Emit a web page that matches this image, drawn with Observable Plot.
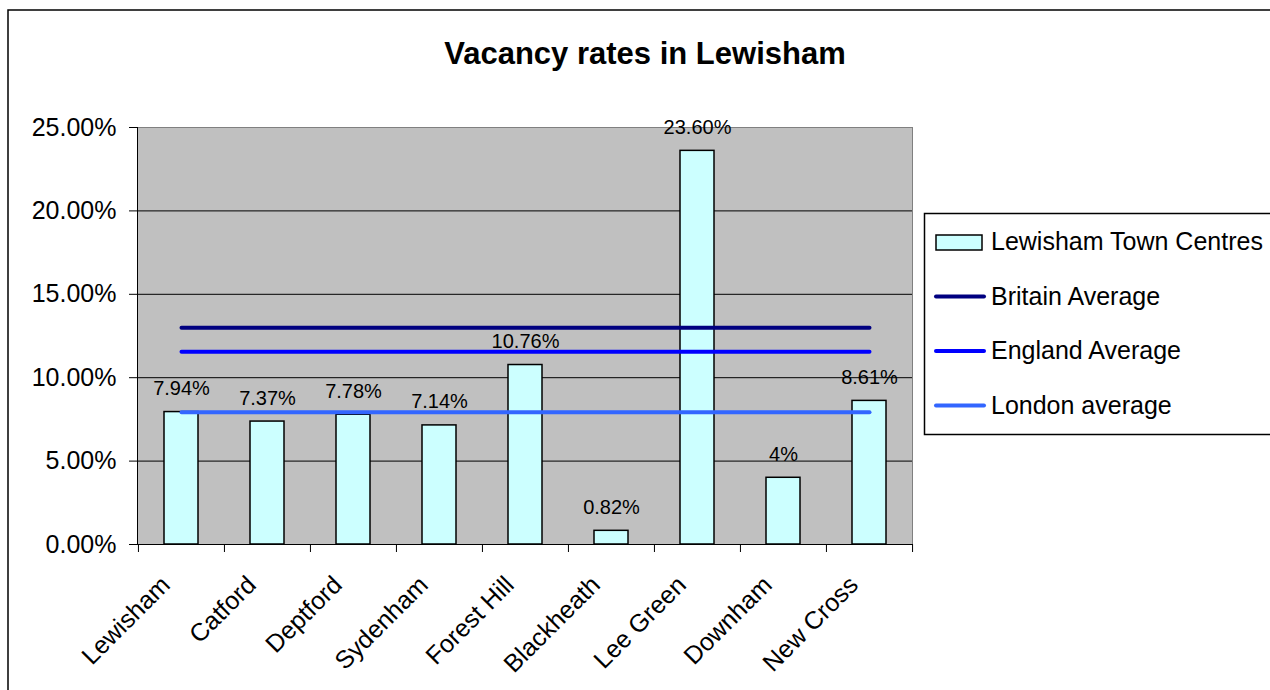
<!DOCTYPE html>
<html><head><meta charset="utf-8">
<script src="https://cdn.jsdelivr.net/npm/d3@7"></script>
<script src="https://cdn.jsdelivr.net/npm/@observablehq/plot@0.6"></script>
<style>
html,body{margin:0;padding:0;background:#fff;overflow:hidden;}
#wrap{position:relative;width:1270px;height:690px;font-family:"Liberation Sans",Arial,sans-serif;overflow:hidden;}
#wrap svg{position:absolute;left:0;top:0;}
</style></head><body><div id="wrap"></div>
<script>
const title = "Vacancy rates in Lewisham";
const centres = ["Lewisham","Catford","Deptford","Sydenham","Forest Hill","Blackheath","Lee Green","Downham","New Cross"];
const vacancy = [7.94,7.37,7.78,7.14,10.76,0.82,23.60,4.00,8.61];
const vacancyLabels = ["7.94%","7.37%","7.78%","7.14%","10.76%","0.82%","23.60%","4%","8.61%"];
const barSeries = "Lewisham Town Centres";
const averageNames = ["Britain Average","England Average","London average"];
const averageValues = [13.0, 11.55, 7.93];
const averageColors = ["#000080","#0000FF","#3366FF"];
const yTicks = [0,5,10,15,20,25];

const FONT = '"Liberation Sans", Arial, sans-serif';
const W = 1270, H = 690, mL = 137, mR = 358, mT = 127, mB = 146;
const plotH = H - mT - mB;
const step = (W - mL - mR) / centres.length;

const bars = centres.map((c, i) => ({centre: c, value: vacancy[i], label: vacancyLabels[i]}));
const avgLines = averageNames.map((name, j) => centres.map(c => ({centre: c, value: averageValues[j], series: name})));

const chart = Plot.plot({
  width: W, height: H, marginLeft: mL, marginRight: mR, marginTop: mT, marginBottom: mB,
  style: {fontFamily: FONT, background: "transparent", color: "#000", overflow: "visible"},
  x: {domain: centres, paddingInner: 0.605, paddingOuter: 0.3025, axis: null, label: null},
  y: {domain: [0, 25], axis: null, label: null},
  marks: [
    Plot.frame({fill: "#C0C0C0", stroke: "#808080"}),
    Plot.ruleY(yTicks.slice(1, -1), {stroke: "#000", strokeWidth: 1}),
    Plot.frame({anchor: "left", stroke: "#000"}),
    Plot.frame({anchor: "bottom", stroke: "#000"}),
    Plot.axisY(yTicks, {tickSize: 8, tickPadding: 13, fontSize: 25, label: null, tickFormat: d => d.toFixed(2) + "%", stroke: "#000", fill: "#000"}),
    Plot.ruleX(centres, {x: d => d, dx: -step / 2, insetTop: plotH, insetBottom: -8, stroke: "#000"}),
    Plot.ruleX([centres[centres.length - 1]], {x: d => d, dx: step / 2, insetTop: plotH, insetBottom: -8, stroke: "#000"}),
    Plot.barY(bars, {x: "centre", y: "value", fill: "#CCFFFF", stroke: "#000", strokeWidth: 1.5}),
    ...avgLines.map((data, j) => Plot.lineY(data, {x: "centre", y: "value", stroke: averageColors[j], strokeWidth: 4, strokeLinecap: "round"})),
    Plot.text(bars, {x: "centre", y: "value", text: "label", lineAnchor: "bottom", dy: -17, fontSize: 20, fill: "#000"}),
    Plot.text(centres, {x: d => d, frameAnchor: "bottom", rotate: -45, textAnchor: "end", dx: -10, dy: 42, fontSize: 25, fill: "#000"})
  ]
});
const wrap = document.getElementById("wrap");
wrap.appendChild(chart);

// overlay: border, title, legend
const svg = d3.select(wrap).append("svg").attr("width", W).attr("height", H)
  .style("font-family", FONT).style("pointer-events", "none");
svg.append("rect").attr("x", 8).attr("y", 10).attr("width", 1400).attr("height", 800)
  .attr("fill", "none").attr("stroke", "#000").attr("stroke-width", 1.5);
svg.append("text").attr("x", 645).attr("y", 64).attr("text-anchor", "middle")
  .attr("font-weight", "bold").attr("font-size", 31).attr("fill", "#000").text(title);

const lg = svg.append("g");
lg.append("rect").attr("x", 924.5).attr("y", 213.5).attr("width", 500).attr("height", 221)
  .attr("fill", "#fff").attr("stroke", "#000").attr("stroke-width", 1.5);
lg.append("rect").attr("x", 936).attr("y", 235).attr("width", 46).attr("height", 15)
  .attr("fill", "#CCFFFF").attr("stroke", "#000").attr("stroke-width", 1.5);
lg.append("text").attr("x", 991).attr("y", 250).attr("font-size", 25).attr("fill", "#000").text(barSeries);
averageNames.forEach((name, j) => {
  const base = 304.5 + j * 54.5;
  lg.append("line").attr("x1", 936).attr("x2", 984).attr("y1", base - 8).attr("y2", base - 8)
    .attr("stroke", averageColors[j]).attr("stroke-width", 4).attr("stroke-linecap", "round");
  lg.append("text").attr("x", 991).attr("y", base).attr("font-size", 25).attr("fill", "#000").text(name);
});
</script></body></html>
